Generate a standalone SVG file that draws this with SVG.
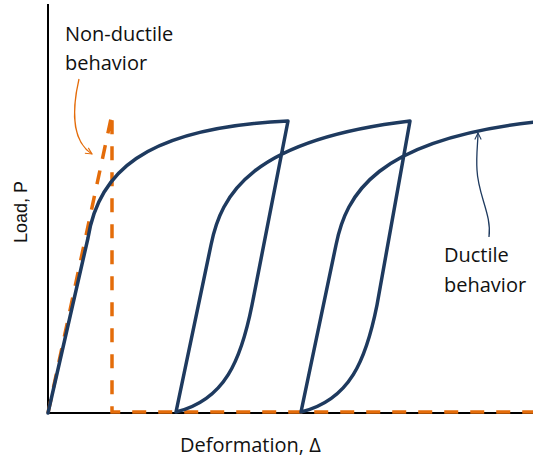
<svg xmlns="http://www.w3.org/2000/svg" width="533" height="458" viewBox="0 0 533 458">
  <style>
    .axis { stroke: #000; stroke-width: 2; fill: none; }
    .ductile { stroke: #1E3A5F; stroke-width: 3.5; fill: none; stroke-linejoin: round; stroke-linecap: round; }
    .brittle { stroke: #E46C0A; stroke-width: 3.5; fill: none; stroke-dasharray: 14 12; }
    .lbl { font-family: "Open Sans", "Noto Sans", sans-serif; font-size: 20px; fill: #111; }
    .axlbl { font-family: "Liberation Sans", Arial, sans-serif; font-size: 18px; fill: #111; }
    .note-o { stroke: #E46C0A; stroke-width: 1.3; fill: none; }
    .note-b { stroke: #1E3A5F; stroke-width: 1.3; fill: none; }
  </style>
  <defs>
    <marker id="arrO" viewBox="0 0 10 10" refX="9" refY="5" markerWidth="8" markerHeight="8" orient="auto" markerUnits="userSpaceOnUse">
      <polyline points="1,1 9,5 1,9" fill="none" stroke="#E46C0A" stroke-width="1.3"/>
    </marker>
    <marker id="arrB" viewBox="0 0 10 10" refX="9" refY="5" markerWidth="8" markerHeight="8" orient="auto" markerUnits="userSpaceOnUse">
      <polyline points="1,1 9,5 1,9" fill="none" stroke="#1E3A5F" stroke-width="1.3"/>
    </marker>
  </defs>
  <rect width="533" height="458" fill="#fff"/>

  <g id="axes">
    <line class="axis" x1="48" y1="4" x2="48" y2="414"/>
    <line class="axis" x1="47" y1="413" x2="533" y2="413"/>
  </g>

  <g id="non-ductile-curve">
    <path class="brittle" d="M48,413 L112,114 L112,412 L533,412"/>
  </g>

  <g id="ductile-curve">
    <path class="ductile" d="M48,413 L88,238 C98,175 140,128 288,121 L252,305 C241,360 225,400 176,412 L211,245 C221,195 250,140 410,121 L377,305 C366,360 350,400 301,412 L336,245 C346,195 375,140 535,122"/>
  </g>

  <g id="connectors">
    <path class="note-o" d="M79,79 C73,105 70,140 92,154" marker-end="url(#arrO)"/>
    <path class="note-b" d="M489,237 C492,215 478,195 477,170 C476,155 478,142 478,133" marker-end="url(#arrB)"/>
  </g>

  <g id="label-nonductile">
    <text class="lbl" x="65" y="41">Non-ductile</text>
    <text class="lbl" x="65" y="70">behavior</text>
  </g>
  <g id="label-ductile">
    <text class="lbl" x="444" y="262">Ductile</text>
    <text class="lbl" x="444" y="292">behavior</text>
  </g>
  <g id="label-x">
    <text class="lbl" x="180" y="452">Deformation, Δ</text>
  </g>
  <g id="label-y">
    <text class="axlbl" transform="translate(27,243) rotate(-90)">Load, P</text>
  </g>
</svg>
